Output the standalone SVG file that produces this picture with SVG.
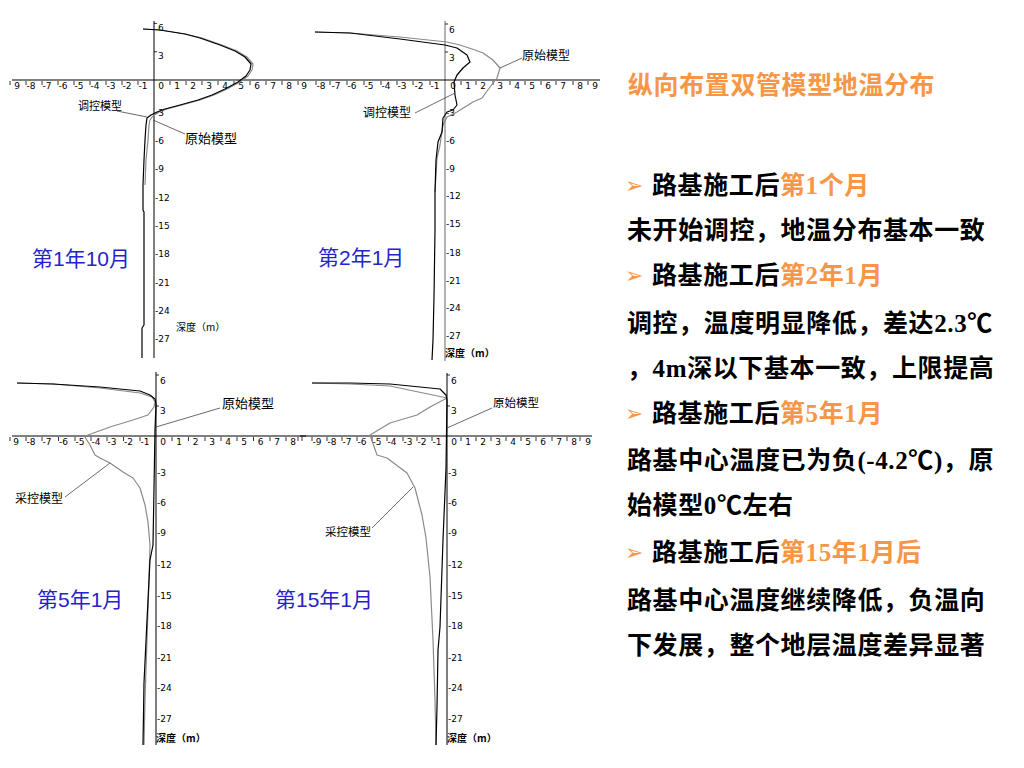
<svg xmlns="http://www.w3.org/2000/svg" width="1024" height="768" viewBox="0 0 1024 768">
<style>
.ax{stroke:#000;stroke-width:1;fill:none}
.axg{stroke:#666;stroke-width:1;fill:none}
.tm{stroke:#000;stroke-width:0.8;fill:none}
.tk{font-family:'DejaVu Sans',sans-serif;font-size:9px;fill:#000}
.tkx{font-family:'DejaVu Sans',sans-serif;font-size:9px;fill:#000;text-anchor:middle}
.cb{stroke:#000;stroke-width:1.2;fill:none;stroke-linejoin:round}
.cg{stroke:#8a8a8a;stroke-width:1.2;fill:none;stroke-linejoin:round}
.ld{stroke:#444;stroke-width:0.8;fill:none}
.lb{font-family:'Noto Sans CJK SC',sans-serif;fill:#000}
.dp{font-family:'Noto Sans CJK SC',sans-serif;font-size:10px;fill:#000}
.yr{font-family:'Liberation Sans','Noto Sans CJK SC',sans-serif;font-size:21px;fill:#2424C8}
.t{font-family:'Liberation Serif','Noto Sans CJK SC',serif;font-size:25px;font-weight:bold;fill:#000;letter-spacing:0.6px}
.o{fill:#F79646}
.h{font-family:'Noto Sans CJK SC',sans-serif;font-size:25px;font-weight:bold;fill:#F79646;letter-spacing:0.6px}
.bu{font-family:'DejaVu Sans',sans-serif;font-size:22px;fill:#F79646}
</style>
<rect width="1024" height="768" fill="#fff"/>

<g id="chart1">
<path class="ax" d="M154,21 V358 M12,80 H306"/>
<path class="tm" d="M10,81v4M26,81v4M42,81v4M58,81v4M74,81v4M90,81v4M106,81v4M122,81v4M138,81v4M170,81v4M186,81v4M202,81v4M218,81v4M234,81v4M250,81v4M266,81v4M282,81v4M298,81v4M154,23.4h3M154,51.7h3"/>
<text class="tkx" y="88.5"><tspan x="17">9</tspan><tspan x="31">-8</tspan><tspan x="47">-7</tspan><tspan x="63">-6</tspan><tspan x="79">-5</tspan><tspan x="95">-4</tspan><tspan x="111">-3</tspan><tspan x="127">-2</tspan><tspan x="143">-1</tspan><tspan x="161">0</tspan><tspan x="177">1</tspan><tspan x="193">2</tspan><tspan x="209">3</tspan><tspan x="225">4</tspan><tspan x="241">5</tspan><tspan x="257">6</tspan><tspan x="273">7</tspan><tspan x="289">8</tspan><tspan x="304">9</tspan></text>
<text class="tk"><tspan x="158" y="31">6</tspan><tspan x="158" y="59">3</tspan><tspan x="155" y="116">-3</tspan><tspan x="155" y="144">-6</tspan><tspan x="155" y="172">-9</tspan><tspan x="155" y="201">-12</tspan><tspan x="155" y="229">-15</tspan><tspan x="155" y="257">-18</tspan><tspan x="155" y="286">-21</tspan><tspan x="155" y="314">-24</tspan><tspan x="155" y="342">-27</tspan></text>
<polyline class="cg" points="143,29 160,30 185,34 202,38 222,45 237,51 247,57 253,64 252,70 248,76 240,82 227,89 214,95 200,100 182,105 167,109 159,112 153,116 150,120 149,125 148,140 146,160 145,185"/>
<polyline class="cb" points="143,29 160,30 185,34 200,38 220,45 235,51 245,57 251,64 250,70 246,76 238,82 225,89 212,95 198,100 180,105 165,109 157,112 151,115 147,118 146,125 145,140 144,160 143,185 143,210 144,212 144,325 142,328 142,358"/>
<path class="ld" d="M117,111 L147,117 M185,134 L153,120"/>
<text class="lb" x="78" y="109.5" font-size="11">调控模型</text>
<text class="lb" x="185" y="143" font-size="13">原始模型</text>
<text class="dp" x="176" y="330.5">深度（m）</text>
<text class="yr" x="32" y="266">第1年10月</text>
</g>

<g id="chart2">
<path class="axg" d="M445,21 V361"/>
<path class="ax" d="M306,80 H600"/>
<path class="tm" d="M316,81v4M330,81v4M347,81v4M364,81v4M381,81v4M397,81v4M413,81v4M430,81v4M461,81v4M476,81v4M493,81v4M510,81v4M525,81v4M541,81v4M556,81v4M573,81v4M588,81v4M445,24h3M445,52h3"/>
<text class="tkx" y="88.5"><tspan x="321">-8</tspan><tspan x="336">-7</tspan><tspan x="352">-6</tspan><tspan x="369">-5</tspan><tspan x="386">-4</tspan><tspan x="402">-3</tspan><tspan x="419">-2</tspan><tspan x="435">-1</tspan><tspan x="453">0</tspan><tspan x="468">1</tspan><tspan x="483">2</tspan><tspan x="500">3</tspan><tspan x="517">4</tspan><tspan x="532">5</tspan><tspan x="548">6</tspan><tspan x="563">7</tspan><tspan x="580">8</tspan><tspan x="595">9</tspan></text>
<text class="tk"><tspan x="449" y="32.5">6</tspan><tspan x="449" y="60.5">3</tspan><tspan x="446" y="115.5">-3</tspan><tspan x="446" y="143.5">-6</tspan><tspan x="446" y="171.5">-9</tspan><tspan x="446" y="198.5">-12</tspan><tspan x="446" y="226.5">-15</tspan><tspan x="446" y="255.5">-18</tspan><tspan x="446" y="283.5">-21</tspan><tspan x="446" y="310.5">-24</tspan><tspan x="446" y="338.5">-27</tspan></text>
<polyline class="cg" points="315,32 350,33 400,37 447,42 460,45 475,50 483,53 493,60 500,68 497,78 490,87 482,98 473,102 457,112 447,117 443,125 440,145 437,158 435,192"/>
<polyline class="cb" points="315,32 350,33 400,39 445,45 457,48 467,55 470,62 463,68 457,75 454,82 455,95 457,105 453,110 447,112 443,118 442,132 438,142 436,160 435,192 435,230 434,297 433,340 432,360"/>
<path class="ld" d="M522,58 L500,68 M415,113 L455,93"/>
<text class="lb" x="522" y="59.5" font-size="12">原始模型</text>
<text class="lb" x="363" y="116.5" font-size="12">调控模型</text>
<text class="dp" x="445" y="356.5" font-weight="bold">深度（m）</text>
<text class="yr" x="318" y="265">第2年1月</text>
</g>

<g id="chart3">
<path class="ax" d="M156,372 V745 M12,436 H306"/>
<path class="tm" d="M10,437v4M26,437v4M42,437v4M58.5,437v4M75,437v4M91,437v4M107,437v4M123.5,437v4M140,437v4M172,437v4M188.5,437v4M205,437v4M221,437v4M237,437v4M253.5,437v4M270,437v4M286,437v4M302,437v4M156,375h3M156,406h3"/>
<text class="tkx" y="445"><tspan x="16">9</tspan><tspan x="31">-8</tspan><tspan x="47">-7</tspan><tspan x="63.5">-6</tspan><tspan x="80">-5</tspan><tspan x="96">-4</tspan><tspan x="112">-3</tspan><tspan x="128.5">-2</tspan><tspan x="145">-1</tspan><tspan x="163">0</tspan><tspan x="179">1</tspan><tspan x="195.5">2</tspan><tspan x="212">3</tspan><tspan x="228">4</tspan><tspan x="244">5</tspan><tspan x="260.5">6</tspan><tspan x="277">7</tspan><tspan x="293">8</tspan></text>
<text class="tk"><tspan x="160" y="383.5">6</tspan><tspan x="160" y="413.5">3</tspan><tspan x="157" y="475.5">-3</tspan><tspan x="157" y="505.5">-6</tspan><tspan x="157" y="535.5">-9</tspan><tspan x="157" y="567.5">-12</tspan><tspan x="157" y="598.5">-15</tspan><tspan x="157" y="628.5">-18</tspan><tspan x="157" y="660.5">-21</tspan><tspan x="157" y="690.5">-24</tspan><tspan x="157" y="721.5">-27</tspan></text>
<polyline class="cg" points="17,383 53,384 100,388 140,393 152,397 155,402 154,407 148,415 133,420 110,427 88,435 85,437 90,445 95,455 100,458 110,463 123,472 133,478 140,488 145,505 148,522 150,545 149,580 147,640 145,700 144,745"/>
<polyline class="cb" points="17,383 53,384 100,387 140,391 150,395 155,399 156,404 155,430 154,488 153,545 150,560 147,620 144,683 143,745"/>
<path class="ld" d="M220,408 L156,427 M65,497 L110,463"/>
<text class="lb" x="222" y="408" font-size="13">原始模型</text>
<text class="lb" x="15" y="502.5" font-size="12">采控模型</text>
<text class="dp" x="156" y="741.5" font-weight="bold">深度（m）</text>
<text class="yr" x="37" y="607">第5年1月</text>
</g>

<g id="chart4">
<path class="ax" d="M447,373 V745 M300,436 H592"/>
<path class="tm" d="M298,437v4M312,437v4M327,437v4M342,437v4M357,437v4M372,437v4M387,437v4M403,437v4M417,437v4M432,437v4M461,437v4M476,437v4M491,437v4M506,437v4M521,437v4M536,437v4M552,437v4M567,437v4M580,437v4M447,375h3M447,406h3"/>
<text class="tkx" y="445"><tspan x="317">-9</tspan><tspan x="332">-8</tspan><tspan x="347">-7</tspan><tspan x="362">-6</tspan><tspan x="377">-5</tspan><tspan x="392">-4</tspan><tspan x="408">-3</tspan><tspan x="422">-2</tspan><tspan x="437">-1</tspan><tspan x="454">0</tspan><tspan x="468">1</tspan><tspan x="483">2</tspan><tspan x="498">3</tspan><tspan x="513">4</tspan><tspan x="528">5</tspan><tspan x="543">6</tspan><tspan x="559">7</tspan><tspan x="574">8</tspan><tspan x="588">9</tspan></text>
<text class="tk"><tspan x="451" y="383.5">6</tspan><tspan x="451" y="413.5">3</tspan><tspan x="448" y="475.5">-3</tspan><tspan x="448" y="505.5">-6</tspan><tspan x="448" y="535.5">-9</tspan><tspan x="448" y="567.5">-12</tspan><tspan x="448" y="598.5">-15</tspan><tspan x="448" y="628.5">-18</tspan><tspan x="448" y="660.5">-21</tspan><tspan x="448" y="690.5">-24</tspan><tspan x="448" y="721.5">-27</tspan></text>
<polyline class="cg" points="312,383 350,384 390,386 447,398 430,407 417,415 390,423 370,435 377,455 387,458 407,473 415,488 422,515 426,538 430,577 433,640 435,700 436,745"/>
<polyline class="cb" points="312,383 350,383 390,384 440,389 446,395 447,400 446,468 443,540 440,627 438,650 437,707 436,745"/>
<path class="ld" d="M492,408 L447,428 M372,528 L413,487"/>
<text class="lb" x="493" y="407" font-size="11.5">原始模型</text>
<text class="lb" x="325" y="536" font-size="11.5">采控模型</text>
<text class="dp" x="447" y="741.5" font-weight="bold">深度（m）</text>
<text class="yr" x="275" y="607">第15年1月</text>
</g>

<g id="notes">
<text class="h" x="628" y="94">纵向布置双管模型地温分布</text>
<text class="bu" x="625" y="193">➢</text>
<text class="t" x="652" y="194">路基施工后<tspan class="o">第1个月</tspan></text>
<text class="t" x="627" y="239">未开始调控，地温分布基本一致</text>
<text class="bu" x="625" y="283">➢</text>
<text class="t" x="652" y="284">路基施工后<tspan class="o">第2年1月</tspan></text>
<text class="t" x="627" y="332">调控，温度明显降低，差达2.3℃</text>
<text class="t" x="627" y="377">，4m深以下基本一致，上限提高</text>
<text class="bu" x="625" y="421">➢</text>
<text class="t" x="652" y="422">路基施工后<tspan class="o">第5年1月</tspan></text>
<text class="t" x="627" y="469">路基中心温度已为负(-4.2℃)，原</text>
<text class="t" x="627" y="514">始模型0℃左右</text>
<text class="bu" x="625" y="560">➢</text>
<text class="t" x="652" y="561">路基施工后<tspan class="o">第15年1月后</tspan></text>
<text class="t" x="627" y="609">路基中心温度继续降低，负温向</text>
<text class="t" x="627" y="654">下发展，整个地层温度差异显著</text>
</g>
</svg>
